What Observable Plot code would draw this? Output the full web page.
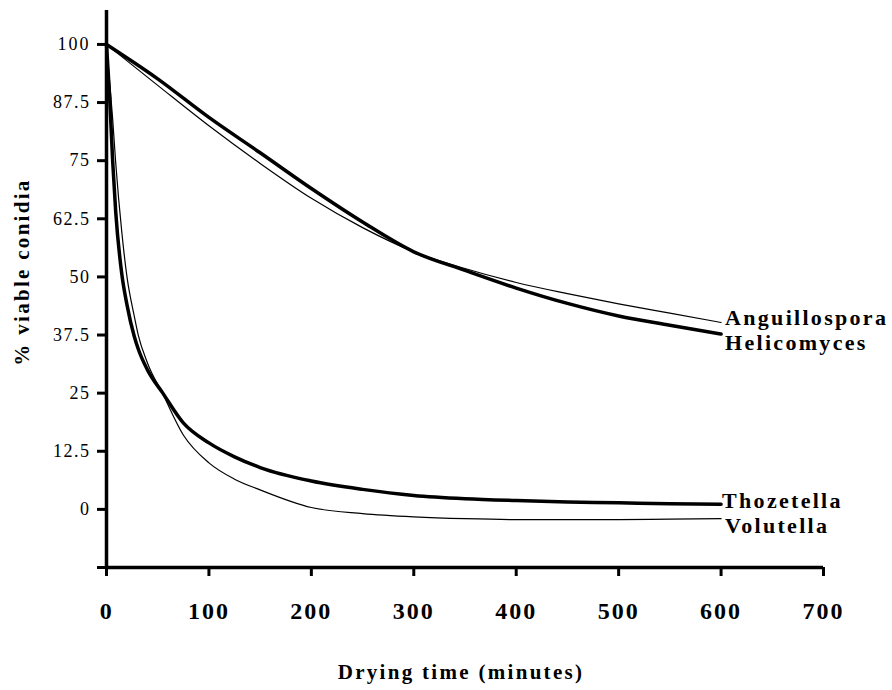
<!DOCTYPE html>
<html>
<head>
<meta charset="utf-8">
<script src="https://cdn.jsdelivr.net/npm/d3@7"></script>
<script src="https://cdn.jsdelivr.net/npm/@observablehq/plot@0.6"></script>
<style>
  html, body { margin: 0; padding: 0; background: #fff; }
</style>
</head>
<body>
<div id="chart"></div>
<script>
// ---- data ----
const upperTime = [0, 50, 100, 150, 200, 250, 300, 350, 400, 450, 500, 550, 600];
const helicomyces   = [100, 92.6, 84.3, 76.7, 69.0, 61.8, 55.4, 51.4, 47.6, 44.3, 41.6, 39.6, 37.7];
const anguillospora = [100, 91.2, 82.5, 74.4, 66.9, 60.6, 55.4, 51.8, 48.8, 46.4, 44.2, 42.2, 40.2];

const lowerTime = [0, 3, 6, 9, 15, 20, 27, 31, 40, 55, 75, 100, 125, 150, 200, 250, 300, 350, 400, 450, 500, 550, 600];
const thozetella = [100, 89, 75, 64, 50.5, 44, 37.3, 34.5, 30, 25, 18.6, 14.3, 11.3, 9.0, 6.1, 4.3, 3.0, 2.3, 1.9, 1.6, 1.4, 1.2, 1.1];
const volutella  = [100, 92, 84, 74.5, 59.5, 50, 41.7, 37.5, 31.5, 24.8, 16, 10, 6.5, 4.2, 0.4, -0.9, -1.6, -2.0, -2.2, -2.2, -2.2, -2.1, -2.0];

const seriesNames = ["Anguillospora", "Helicomyces", "Thozetella", "Volutella"];

const xTicks = [0, 100, 200, 300, 400, 500, 600, 700];
const yTicks = [-12.5, 0, 12.5, 25, 37.5, 50, 62.5, 75, 87.5, 100];
const yTickLabels = ["", "0", "12.5", "25", "37.5", "50", "62.5", "75", "87.5", "100"];

const xTitle = "Drying time (minutes)";
const yTitle = "% viable conidia";

// ---- build tables ----
const rows = (times, vals) => times.map((t, i) => ({t, v: vals[i]}));
const helRows = rows(upperTime, helicomyces);
const angRows = rows(upperTime, anguillospora);
const thoRows = rows(lowerTime, thozetella);
const volRows = rows(lowerTime, volutella);
const lastOf = (r) => [r[r.length - 1]];
const yLabelMap = new Map(yTicks.map((d, i) => [d, yTickLabels[i]]));

const labelStyle = {fontSize: 22, fontWeight: "bold", textAnchor: "start", lineAnchor: "middle"};

const chart = Plot.plot({
  width: 892,
  height: 690,
  marginLeft: 106,
  marginRight: 69,
  marginTop: 10,
  marginBottom: 123,
  x: {domain: [0, 700]},
  y: {domain: [-12.5, 107.3]},
  style: {fontFamily: "'Liberation Serif', 'Times New Roman', serif", background: "#fff", color: "#000"},
  marks: [
    Plot.axisX({ticks: xTicks, tickSize: 9, tickPadding: 25, strokeWidth: 3, label: null, fontSize: 24, fontWeight: "bold"}),
    Plot.axisY({ticks: yTicks, tickFormat: d => yLabelMap.get(d), tickSize: 9, tickPadding: 7, strokeWidth: 3, label: null, fontSize: 18}),
    Plot.ruleX([0], {strokeWidth: 3.5}),
    Plot.ruleY([-12.5], {strokeWidth: 3.5}),
    Plot.line(angRows, {x: "t", y: "v", curve: "monotone-x", strokeWidth: 1.2}),
    Plot.line(helRows, {x: "t", y: "v", curve: "monotone-x", strokeWidth: 3.5}),
    Plot.line(volRows, {x: "t", y: "v", curve: "monotone-x", strokeWidth: 1.2}),
    Plot.line(thoRows, {x: "t", y: "v", curve: "monotone-x", strokeWidth: 3.5}),
    Plot.text(lastOf(angRows), {x: "t", y: "v", text: () => seriesNames[0], dx: 4, dy: -5, ...labelStyle}),
    Plot.text(lastOf(helRows), {x: "t", y: "v", text: () => seriesNames[1], dx: 4, dy: 9, ...labelStyle}),
    Plot.text(lastOf(thoRows), {x: "t", y: "v", text: () => seriesNames[2], dx: 1, dy: -3, ...labelStyle}),
    Plot.text(lastOf(volRows), {x: "t", y: "v", text: () => seriesNames[3], dx: 4, dy: 7, ...labelStyle}),
    Plot.text([xTitle], {text: d => d, frameAnchor: "bottom", dy: 105, dx: -4, fontSize: 21, fontWeight: "bold", textAnchor: "middle", lineAnchor: "middle"}),
    Plot.text([yTitle], {text: d => d, frameAnchor: "left", rotate: -90, dx: -84, dy: -17, fontSize: 21, fontWeight: "bold", textAnchor: "middle", lineAnchor: "middle"})
  ]
});
document.getElementById("chart").appendChild(chart);

// letter spacing to match the wide lettering of the reference (selected by content)
const spacingFor = (s) => {
  if (seriesNames.includes(s) || s === xTitle || s === yTitle) return 2.3;
  if (xTicks.map(String).includes(s) && s.length === 3) return 2;
  if (yTickLabels.includes(s)) return 1.5;
  return 0;
};
d3.select(chart).selectAll("text").each(function () {
  const ls = spacingFor(this.textContent);
  if (ls) {
    this.setAttribute("letter-spacing", ls);
    this.style.letterSpacing = ls + "px";
  }
});
</script>
</body>
</html>
